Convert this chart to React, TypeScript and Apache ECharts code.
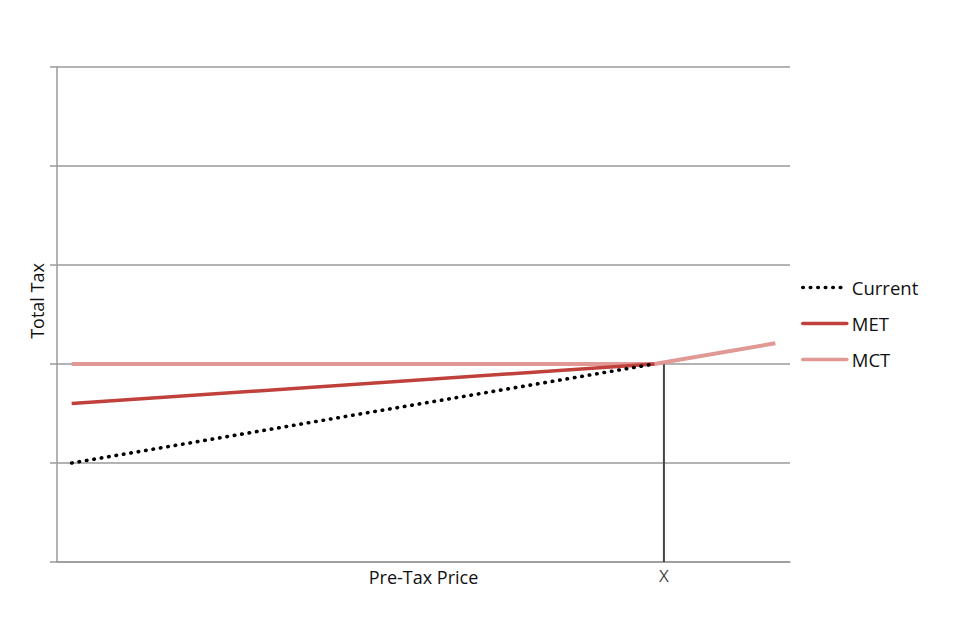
import React, { useEffect, useRef } from "react";
import * as echarts from "echarts";

const priceX = [2, 81.5];
const currentTax = [1.0, 2.0];
const metTax = [1.6, 2.0];
const mctX = [2, 81.5, 98];
const mctTax = [2.0, 2.0, 2.21];
const markX = 82.8;
const markTop = 2.0;
const yTicks = [0, 1, 2, 3, 4, 5];

const FONT = "'Open Sans', 'Noto Sans', sans-serif";

export default function App() {
  const ref = useRef<HTMLDivElement>(null);
  useEffect(() => {
    if (!ref.current) return;
    const chart = echarts.init(ref.current, null, { renderer: "svg" });
    chart.setOption({
      animation: false,
      backgroundColor: "#ffffff",
      textStyle: { fontFamily: FONT },
      grid: { left: 57, right: 170, top: 67, bottom: 78 },
      legend: {
        orient: "vertical",
        left: 796,
        top: 273,
        itemWidth: 44,
        itemHeight: 14,
        itemGap: 17,
        itemStyle: { opacity: 0 },
        lineStyle: { width: 3.6, color: "inherit", type: "inherit", cap: "round" },
        textStyle: { fontFamily: FONT, fontSize: 18.5, lineHeight: 18, color: "#111" },
        data: ["Current", "MET", "MCT"],
      },
      xAxis: {
        type: "value",
        min: 0,
        max: 100,
        name: "Pre-Tax Price",
        nameLocation: "middle",
        nameGap: 6,
        nameTextStyle: { fontFamily: FONT, fontSize: 18, color: "#111", verticalAlign: "top" },
        axisLine: { show: true, lineStyle: { color: "#9a9a9a", width: 1.5 } },
        axisTick: { show: false },
        axisLabel: { show: false },
        splitLine: { show: false },
      },
      yAxis: {
        type: "value",
        min: yTicks[0],
        max: yTicks[yTicks.length - 1],
        interval: 1,
        axisLine: { show: true, lineStyle: { color: "#9a9a9a", width: 1.5 } },
        axisTick: { show: true, length: 7, lineStyle: { color: "#9a9a9a", width: 1.5 } },
        axisLabel: { show: false },
        splitLine: { show: true, lineStyle: { color: "#9a9a9a", width: 1.5 } },
      },
      graphic: [
        {
          type: "text",
          x: 37,
          y: 301,
          rotation: Math.PI / 2,
          style: {
            text: "Total Tax",
            fontFamily: FONT,
            fontSize: 18,
            fill: "#111",
            align: "center",
            verticalAlign: "middle",
          },
        },
      ],
      series: [
        {
          name: "Xmark",
          type: "line",
          data: [
            [markX, 0],
            [markX, markTop],
          ],
          symbol: "none",
          lineStyle: { color: "#444", width: 2 },
          silent: true,
          z: 1,
        },
        {
          name: "Xlabel",
          type: "scatter",
          data: [[markX, 0]],
          symbolSize: 0,
          label: {
            show: true,
            position: "bottom",
            distance: 5,
            formatter: "X",
            fontFamily: FONT,
            fontSize: 17,
            color: "#111",
          },
          silent: true,
        },
        {
          name: "MCT",
          type: "line",
          data: mctX.map((x, i) => [x, mctTax[i]]),
          symbol: "none",
          itemStyle: { color: "#e09995" },
          lineStyle: { color: "#e09995", width: 4 },
          z: 2,
        },
        {
          name: "MET",
          type: "line",
          data: priceX.map((x, i) => [x, metTax[i]]),
          symbol: "none",
          itemStyle: { color: "#c0413b" },
          lineStyle: { color: "#c0413b", width: 3.5 },
          z: 3,
        },
        {
          name: "Current",
          type: "line",
          data: priceX.map((x, i) => [x, currentTax[i]]),
          symbol: "none",
          itemStyle: { color: "#000" },
          lineStyle: { color: "#000", width: 3.6, type: [0.5, 7], cap: "round" },
          z: 4,
        },
      ],
    });
    return () => chart.dispose();
  }, []);
  return <div ref={ref} style={{ width: 960, height: 640, position: "absolute", left: 0, top: 0 }} />;
}
